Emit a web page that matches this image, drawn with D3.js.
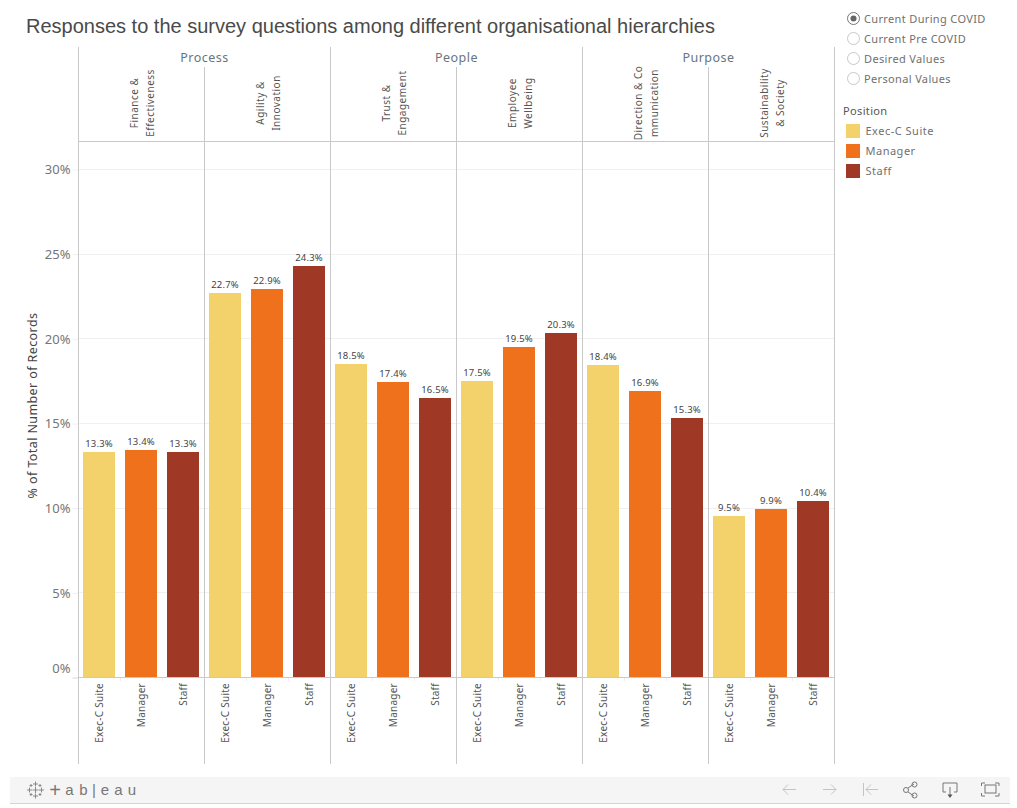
<!DOCTYPE html>
<html>
<head>
<meta charset="utf-8">
<script src="https://cdn.jsdelivr.net/npm/d3@7/dist/d3.min.js"></script>
<style>
html, body { margin: 0; padding: 0; background: #fff; overflow: hidden; }
svg { display: block; font-family: "Noto Sans", sans-serif; }
</style>
</head>
<body>
<svg id="chart" width="1017" height="808"></svg>
<script>
// Survey responses, percent of records per question area and position
const title = "Responses to the survey questions among different organisational hierarchies";
const groups = ["Process", "People", "Purpose"];
const areas = [
  ["Finance &", "Effectiveness"],
  ["Agility &", "Innovation"],
  ["Trust &", "Engagement"],
  ["Employee", "Wellbeing"],
  ["Direction & Co", "mmunication"],
  ["Sustainability", "& Society"]
];
const positions = ["Exec-C Suite", "Manager", "Staff"];
const colors = ["#f3d16b", "#f0711c", "#a03826"];
const values = [
  [13.3, 13.4, 13.3],
  [22.7, 22.9, 24.3],
  [18.5, 17.4, 16.5],
  [17.5, 19.5, 20.3],
  [18.4, 16.9, 15.3],
  [9.5, 9.9, 10.4]
];
const yTicks = [0, 5, 10, 15, 20, 25, 30];
const viewOptions = ["Current During COVID", "Current Pre COVID", "Desired Values", "Personal Values"];
const selectedView = 0;

const svg = d3.select("#chart");
const rule = "#c9c9c9";

const frameLeft = 78.5, frameRight = 834.5, frameTop = 47, headerTop = 67, headerBottom = 141.5, baseY = 677, frameBottom = 764;

const y = d3.scaleLinear().domain([0, 30]).range([baseY, 169]);
const areaX = d3.scaleBand().domain(d3.range(areas.length)).range([frameLeft, frameRight]);
const groupX = d3.scaleBand().domain(groups).range([frameLeft, frameRight]);

// Title
svg.append("text").attr("x", 26).attr("y", 33)
  .attr("font-family", "'Liberation Sans', Arial, sans-serif")
  .attr("font-size", 20).attr("fill", "#4a4a4a").text(title);

// Horizontal gridlines and value axis
const yAxis = d3.axisLeft(y).tickValues(yTicks)
  .tickFormat(d => d + "%").tickSize(6).tickPadding(2);
const yG = svg.append("g").attr("transform", `translate(${frameLeft},0.5)`).call(yAxis);
yG.select(".domain").remove();
yG.selectAll(".tick line").attr("stroke", d => d === 0 ? "#d8d8d8" : "#f0f0f0");
yG.selectAll(".tick text").attr("font-size", 13).attr("fill", "#757575")
  .attr("font-family", "'Noto Sans', sans-serif")
  .attr("transform", d => d === 0 ? "translate(0,-9)" : null);
svg.append("g").selectAll("line").data(yTicks.filter(d => d > 0)).join("line")
  .attr("x1", frameLeft).attr("x2", frameRight)
  .attr("y1", d => Math.round(y(d)) + 0.5).attr("y2", d => Math.round(y(d)) + 0.5)
  .attr("stroke", "#f0f0f0");

svg.append("text")
  .attr("transform", "translate(37,405.5) rotate(-90)")
  .attr("text-anchor", "middle").attr("font-size", 12.5).attr("letter-spacing", 0.4).attr("fill", "#444")
  .text("% of Total Number of Records");

// One panel of bars for each question area
areas.forEach((labels, i) => {
  const x0 = areaX(i), w = areaX.bandwidth();
  const x = d3.scaleBand().domain(positions).range([x0 - 0.5, x0 + w - 0.5]).paddingInner(10 / 42).paddingOuter(5 / 42);
  const g = svg.append("g");
  const rows = positions.map((p, k) => ({ p, k, v: values[i][k] }));

  g.selectAll("rect").data(rows).join("rect")
    .attr("x", d => x(d.p)).attr("width", x.bandwidth())
    .attr("y", d => Math.round(y(d.v))).attr("height", d => y(0) - Math.round(y(d.v)))
    .attr("fill", d => colors[d.k]);

  g.selectAll("text.value").data(rows).join("text")
    .attr("class", "value")
    .attr("x", d => x(d.p) + x.bandwidth() / 2).attr("y", d => Math.round(y(d.v)) - 5)
    .attr("text-anchor", "middle").attr("font-size", 9.5).attr("letter-spacing", 0.2).attr("fill", "#444")
    .text(d => d.v.toFixed(1) + "%");

  // Position labels under the baseline
  const xG = g.append("g").attr("transform", `translate(0,${baseY})`)
    .call(d3.axisBottom(x).tickSize(0));
  xG.select(".domain").remove();
  xG.selectAll(".tick text")
    .attr("transform", "translate(0,6) rotate(-90)")
    .attr("x", 0).attr("y", 3.5).attr("dy", 0)
    .attr("text-anchor", "end").attr("font-size", 10).attr("letter-spacing", 0.25).attr("fill", "#555")
    .attr("font-family", "'Noto Sans', sans-serif");

  // Small separators between positions on the baseline
  g.selectAll("line.sep").data([1, 2]).join("line")
    .attr("class", "sep")
    .attr("x1", d => x0 + d * w / 3).attr("x2", d => x0 + d * w / 3)
    .attr("y1", baseY).attr("y2", baseY + 4).attr("stroke", "#eeeeee");

  // Two-line rotated area header
  const cx = x0 + w / 2;
  labels.forEach((line, n) => {
    svg.append("text")
      .attr("transform", `translate(${cx + (n === 0 ? -3.5 : 12)},103) rotate(-90)`)
      .attr("text-anchor", "middle").attr("font-size", 10).attr("letter-spacing", 0.5).attr("fill", "#555")
      .text(line);
  });
});

// Group headers
svg.append("g").selectAll("text").data(groups).join("text")
  .attr("x", d => groupX(d) + groupX.bandwidth() / 2).attr("y", 62)
  .attr("text-anchor", "middle").attr("font-size", 12.5).attr("letter-spacing", 0.5).attr("fill", "#66757f")
  .text(d => d);

// Frame rules
const rules = svg.append("g").attr("stroke", rule).attr("fill", "none");
groups.forEach(g => {
  rules.append("line").attr("x1", groupX(g)).attr("x2", groupX(g)).attr("y1", frameTop).attr("y2", frameBottom);
});
rules.append("line").attr("x1", frameRight).attr("x2", frameRight).attr("y1", frameTop).attr("y2", frameBottom);
d3.range(1, areas.length, 2).forEach(i => {
  rules.append("line").attr("x1", areaX(i)).attr("x2", areaX(i)).attr("y1", headerTop).attr("y2", frameBottom);
});
rules.append("line").attr("x1", frameLeft).attr("x2", frameRight).attr("y1", headerBottom).attr("y2", headerBottom);
rules.append("line").attr("x1", frameLeft).attr("x2", frameRight).attr("y1", baseY + 0.5).attr("y2", baseY + 0.5);

// Parameter radio list
const radios = svg.append("g").selectAll("g").data(viewOptions).join("g")
  .attr("transform", (d, i) => `translate(853.5,${18.5 + i * 20})`);
radios.append("circle").attr("r", 6).attr("fill", "#fff")
  .attr("stroke", (d, i) => i === selectedView ? "#777" : "#c8c8c8");
radios.filter((d, i) => i === selectedView).append("circle").attr("r", 3).attr("fill", "#666");
radios.append("text").attr("x", 10.5).attr("y", 4).attr("font-size", 11).attr("letter-spacing", 0.35).attr("fill", "#707070").text(d => d);

// Colour legend
svg.append("text").attr("x", 843).attr("y", 115).attr("font-size", 11).attr("letter-spacing", 0.35).attr("fill", "#555").text("Position");
const legend = svg.append("g").selectAll("g").data(positions).join("g")
  .attr("transform", (d, i) => `translate(846,${124 + i * 20})`);
legend.append("rect").attr("width", 14).attr("height", 14).attr("fill", (d, i) => colors[i]);
legend.append("text").attr("x", 19.5).attr("y", 11).attr("font-size", 11).attr("letter-spacing", 0.5).attr("fill", "#707070").text(d => d);

// Viewer toolbar
const bar = svg.append("g");
bar.append("rect").attr("x", 10).attr("y", 777).attr("width", 1000).attr("height", 26).attr("fill", "#f5f5f5");
bar.append("line").attr("x1", 10).attr("x2", 1010).attr("y1", 803.5).attr("y2", 803.5).attr("stroke", "#d4d4d4");

// Logo mark made of small plus signs
const crosses = [[35.5, 784, 2.5], [35.5, 796, 2.5], [29.5, 790, 2.5], [41.5, 790, 2.5], [31, 785.5, 1.5], [40, 785.5, 1.5], [31, 794.5, 1.5], [40, 794.5, 1.5], [35.5, 790, 3]];
bar.append("g").attr("stroke", "#8a8a8a").attr("stroke-width", 1).selectAll("path").data(crosses).join("path")
  .attr("d", d => `M${d[0] - d[2]},${d[1]}H${d[0] + d[2]}M${d[0]},${d[1] - d[2]}V${d[1] + d[2]}`);
const logoLetters = ["+", "a", "b", "|", "e", "a", "u"];
const logoSizes = [20, 15, 15, 15, 15, 15, 15];
const logoX = [55, 69.5, 83.5, 94, 105, 118.5, 132];
bar.append("g").selectAll("text").data(logoLetters).join("text")
  .attr("x", (d, i) => logoX[i]).attr("y", (d, i) => i === 0 ? 796.5 : 795)
  .attr("text-anchor", "middle").attr("font-size", (d, i) => logoSizes[i]).attr("fill", "#777")
  .attr("font-family", "'Liberation Sans', sans-serif").text(d => d);

// Toolbar icons
const icons = bar.append("g").attr("fill", "none").attr("stroke-width", 1);
const dim = "#c4c4c4", dark = "#777";
icons.append("path").attr("stroke", dim).attr("d", "M783,789.5H796M783,789.5l5,-5M783,789.5l5,5");
icons.append("path").attr("stroke", dim).attr("d", "M823,789.5H836M836,789.5l-5,-5M836,789.5l-5,5");
icons.append("path").attr("stroke", dim).attr("d", "M863.5,783V796M866,789.5H878M866,789.5l5,-5M866,789.5l5,5");
icons.append("path").attr("stroke", dark).attr("d", "M908,788L914,784M908,792L914,796");
icons.append("circle").attr("stroke", dark).attr("cx", 906).attr("cy", 790).attr("r", 2.5);
icons.append("circle").attr("stroke", dark).attr("cx", 914.5).attr("cy", 784.5).attr("r", 2.5);
icons.append("circle").attr("stroke", dark).attr("cx", 914.5).attr("cy", 795.5).attr("r", 2.5);
icons.append("path").attr("stroke", dark).attr("d", "M946,792H943V783H957V792H954M950,787V796");
icons.append("path").attr("stroke", "none").attr("fill", "#555").attr("d", "M947.5,794.5H952.5L950,798Z");
icons.append("rect").attr("stroke", dark).attr("x", 985).attr("y", 785).attr("width", 11).attr("height", 8);
icons.append("path").attr("stroke", dark).attr("d", "M981.5,786V783H985M995,783H999V786M999,793V796H995M985,796H981.5V793");
</script>
</body>
</html>
